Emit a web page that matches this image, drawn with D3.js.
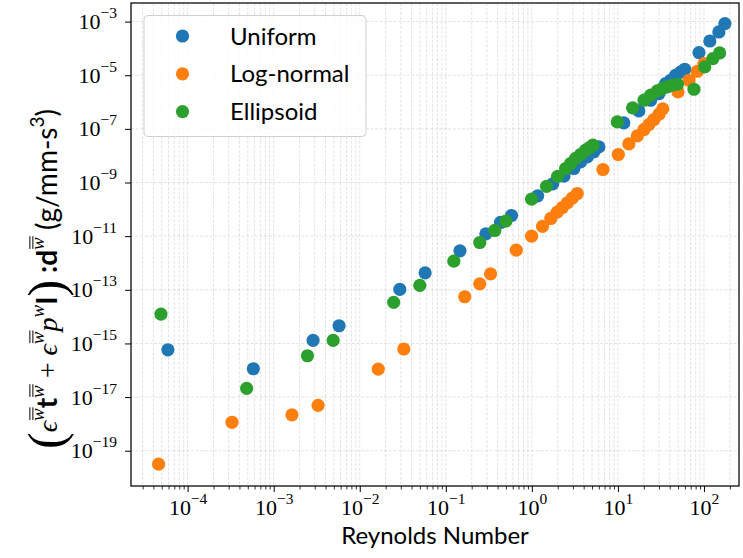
<!DOCTYPE html>
<html>
<head>
<meta charset="utf-8">
<script src="https://cdn.jsdelivr.net/npm/d3@7"></script>
<style>
  body { margin: 0; background: #fff; }
</style>
</head>
<body>
<svg id="chart"></svg>
<script>
// values
var uniformRe = [5.9e-5, 5.8e-4, 2.87e-3, 5.75e-3, 0.0292, 0.0575, 0.146, 0.292, 0.432, 0.58, 1.17, 1.75, 2.36, 3.08, 3.68, 4.40, 5.26, 6.01, 11.7, 17.5, 24.0, 30.0, 35.9, 41, 46.9, 53.6, 59.7, 87.5, 117, 149, 175];
var uniformVal = [5.8e-16, 1.14e-16, 1.30e-15, 4.56e-15, 1.03e-13, 4.3e-13, 2.84e-12, 1.22e-11, 3.24e-11, 5.9e-11, 3.18e-10, 8.9e-10, 1.72e-9, 3.33e-9, 5.87e-9, 9.0e-9, 1.39e-8, 2.13e-8, 1.67e-7, 4.67e-7, 1.17e-6, 2.07e-6, 4.9e-6, 6.5e-6, 1.0e-5, 1.32e-5, 1.67e-5, 7.0e-5, 1.89e-4, 4.1e-4, 8.4e-4];

var lognormalRe = [4.6e-5, 3.28e-4, 1.63e-3, 3.28e-3, 0.0164, 0.0325, 0.166, 0.248, 0.331, 0.659, 0.993, 1.33, 1.66, 1.97, 2.26, 2.58, 2.95, 3.37, 6.7, 10.1, 13.4, 16.8, 20.1, 22.9, 26.2, 30.0, 33.2, 49.9, 67, 83.8, 100];
var lognormalVal = [3.15e-20, 1.15e-18, 2.18e-18, 4.93e-18, 1.11e-16, 6.2e-16, 5.5e-14, 1.67e-13, 3.94e-13, 3.0e-12, 1.0e-11, 2.3e-11, 4.57e-11, 7.85e-11, 1.17e-10, 1.74e-10, 2.6e-10, 3.9e-10, 3.06e-9, 1.11e-8, 2.75e-8, 5.47e-8, 9.5e-8, 1.45e-7, 2.23e-7, 3.52e-7, 5.6e-7, 2.38e-6, 6.5e-6, 1.41e-5, 2.72e-5];

var ellipsoidRe = [4.9e-5, 4.85e-4, 2.47e-3, 4.91e-3, 0.0248, 0.0499, 0.124, 0.248, 0.371, 0.499, 0.993, 1.48, 1.99, 2.47, 2.82, 3.22, 3.68, 4.21, 4.69, 5.12, 9.84, 14.8, 20.1, 24.0, 28.7, 32.8, 37.5, 42.9, 49.1, 76.5, 102, 127, 152];
var ellipsoidVal = [1.24e-14, 2.12e-17, 3.47e-16, 1.30e-15, 3.4e-14, 1.46e-13, 1.17e-12, 5.8e-12, 1.63e-11, 3.62e-11, 2.39e-10, 7.2e-10, 1.69e-9, 3.33e-9, 5.1e-9, 7.9e-9, 1.11e-8, 1.6e-8, 2.02e-8, 2.46e-8, 1.82e-7, 6.1e-7, 1.17e-6, 1.8e-6, 2.6e-6, 3.19e-6, 3.66e-6, 4.23e-6, 4.61e-6, 3.0e-6, 2.04e-5, 4.18e-5, 6.76e-5];

var seriesNames = ["Uniform", "Log-normal", "Ellipsoid"];
var seriesColors = ["#1f77b4", "#ff7f0e", "#2ca02c"];
var xTickExp = [-4, -3, -2, -1, 0, 1, 2];
var yTickExp = [-19, -17, -15, -13, -11, -9, -7, -5, -3];

var series = [
  { name: seriesNames[0], color: seriesColors[0], re: uniformRe, val: uniformVal },
  { name: seriesNames[1], color: seriesColors[1], re: lognormalRe, val: lognormalVal },
  { name: seriesNames[2], color: seriesColors[2], re: ellipsoidRe, val: ellipsoidVal }
];

var width = 743, height = 558;
var plotLeft = 131, plotTop = 3, plotRight = 739, plotBottom = 486;
var serif = "'Liberation Serif', 'DejaVu Serif', serif";
var sans = "Lato, 'Open Sans', 'DejaVu Sans', sans-serif";

var svg = d3.select('#chart')
  .attr('width', width)
  .attr('height', height);

var x = d3.scaleLog()
  .domain([Math.pow(10, -4.658), Math.pow(10, 2.407)])
  .range([plotLeft, plotRight]);
var y = d3.scaleLog()
  .domain([Math.pow(10, -20.315), Math.pow(10, -2.307)])
  .range([plotBottom, plotTop]);

// minor x ticks 2..9 in every decade
var xMinor = [];
for (var d = -5; d <= 2; d++) {
  for (var k = 2; k <= 9; k++) {
    var v = k * Math.pow(10, d);
    if (v > x.domain()[0] && v < x.domain()[1]) xMinor.push(v);
  }
}
var xMajor = xTickExp.map(function (e) { return Math.pow(10, e); });
var yMajor = yTickExp.map(function (e) { return Math.pow(10, e); });

// grid
var grid = svg.append('g')
  .attr('stroke', '#b0b0b0')
  .attr('stroke-opacity', 0.45)
  .attr('stroke-width', 0.8)
  .attr('stroke-dasharray', '3,1.6');
grid.selectAll('line.gx')
  .data(xMajor.concat(xMinor))
  .enter().append('line')
  .attr('x1', function (d) { return x(d); })
  .attr('x2', function (d) { return x(d); })
  .attr('y1', plotTop).attr('y2', plotBottom);
grid.selectAll('line.gy')
  .data(yMajor)
  .enter().append('line')
  .attr('y1', function (d) { return y(d); })
  .attr('y2', function (d) { return y(d); })
  .attr('x1', plotLeft).attr('x2', plotRight);

// axes
var gxMinor = svg.append('g')
  .attr('transform', 'translate(0,' + plotBottom + ')')
  .call(d3.axisBottom(x).tickValues(xMinor).tickSize(3.5).tickFormat(''));
var gxMajor = svg.append('g')
  .attr('transform', 'translate(0,' + plotBottom + ')')
  .call(d3.axisBottom(x).tickValues(xMajor).tickSize(6).tickFormat(''));
var gy = svg.append('g')
  .attr('transform', 'translate(' + plotLeft + ',0)')
  .call(d3.axisLeft(y).tickValues(yMajor).tickSize(6).tickFormat(''));
[gxMinor, gxMajor, gy].forEach(function (g) {
  g.select('.domain').remove();
  g.selectAll('line').attr('stroke', '#000').attr('stroke-width', 1);
});
gxMinor.selectAll('line').attr('stroke-width', 0.8);

// tick labels with superscripts
gxMajor.selectAll('.tick').each(function (d) {
  var e = Math.round(Math.log10(d));
  var t = d3.select(this).append('text')
    .attr('y', 29)
    .attr('fill', '#000')
    .attr('text-anchor', 'middle')
    .style('font-family', serif)
    .style('font-size', '22px');
  t.append('tspan').text('10');
  t.append('tspan').attr('dy', -11).style('font-size', '15.5px')
    .text((e < 0 ? '\u2212' : '') + Math.abs(e));
});
gy.selectAll('.tick').each(function (d) {
  var e = Math.round(Math.log10(d));
  var t = d3.select(this).append('text')
    .attr('x', -14)
    .attr('y', 7)
    .attr('fill', '#000')
    .attr('text-anchor', 'end')
    .style('font-family', serif)
    .style('font-size', '22px');
  t.append('tspan').text('10');
  t.append('tspan').attr('dy', -11).style('font-size', '15.5px')
    .text((e < 0 ? '\u2212' : '') + Math.abs(e));
});

// points
var plot = svg.append('g');
series.forEach(function (s) {
  plot.append('g')
    .selectAll('circle')
    .data(d3.range(s.re.length))
    .enter().append('circle')
    .attr('cx', function (i) { return x(s.re[i]); })
    .attr('cy', function (i) { return y(s.val[i]); })
    .attr('r', 6.6)
    .attr('fill', s.color);
});

// frame
svg.append('rect')
  .attr('x', plotLeft).attr('y', plotTop)
  .attr('width', plotRight - plotLeft).attr('height', plotBottom - plotTop)
  .attr('fill', 'none')
  .attr('stroke', '#000')
  .attr('stroke-width', 1.25);

// legend
var legend = svg.append('g');
legend.append('rect')
  .attr('x', 144).attr('y', 15.5)
  .attr('width', 222).attr('height', 121)
  .attr('rx', 4)
  .attr('fill', '#fff').attr('fill-opacity', 0.8)
  .attr('stroke', '#d0d0d0').attr('stroke-width', 1);
var legendRows = legend.selectAll('g.row')
  .data(series)
  .enter().append('g')
  .attr('transform', function (d, i) { return 'translate(182.5,' + (36 + i * 37.8) + ')'; });
legendRows.append('circle')
  .attr('r', 6.6)
  .attr('fill', function (d) { return d.color; });
legendRows.append('text')
  .attr('x', 47.5).attr('y', 8.5)
  .style('font-family', sans)
  .style('font-size', '24px')
  .attr('fill', '#000')
  .text(function (d) { return d.name; });

// axis titles
svg.append('text')
  .attr('x', (plotLeft + plotRight) / 2).attr('y', 544)
  .attr('text-anchor', 'middle')
  .style('font-family', sans)
  .style('font-size', '24px')
  .text('Reynolds Number');

// y title: pieces of the formula, double bars drawn as lines over the w's
var ylPieces = [
  { t: '(', size: 50, dy: 6, font: serif },
  { t: '\u03F5', size: 28, dy: -6, font: serif, it: true },
  { t: 'w', size: 19, dy: -13, font: serif, it: true, bar: true },
  { t: 't', size: 28, dy: 13, font: sans, bold: true },
  { t: 'w', size: 19, dy: -13, font: serif, it: true, bar: true },
  { t: ' + ', size: 28, dy: 13, font: serif },
  { t: '\u03F5', size: 28, dy: 0, font: serif, it: true },
  { t: 'w', size: 19, dy: -13, font: serif, it: true, bar: true },
  { t: 'p', size: 28, dy: 13, font: serif, it: true },
  { t: 'w', size: 19, dy: -13, font: serif, it: true },
  { t: 'I', size: 28, dy: 13, font: sans, bold: true },
  { t: ')', size: 50, dy: 6, font: serif },
  { t: ' :d', size: 28, dy: -6, font: sans, bold: true },
  { t: 'w', size: 19, dy: -13, font: serif, it: true, bar: true },
  { t: ' (g/mm-s', size: 28, dy: 13, font: sans },
  { t: '3', size: 19, dy: -13, font: sans },
  { t: ')', size: 28, dy: 13, font: sans }
];
var ylGroup = svg.append('g').attr('transform', 'translate(57,279) rotate(-90)');
var yl = ylGroup.append('text')
  .attr('text-anchor', 'middle')
  .attr('fill', '#000');
var charIndex = 0, barChars = [];
ylPieces.forEach(function (p) {
  yl.append('tspan')
    .attr('dy', p.dy)
    .style('font-family', p.font)
    .style('font-size', p.size + 'px')
    .style('font-style', p.it ? 'italic' : 'normal')
    .style('font-weight', p.bold ? 'bold' : 'normal')
    .text(p.t);
  if (p.bar) barChars.push(charIndex);
  charIndex += p.t.length;
});
barChars.forEach(function (ci) {
  var box = yl.node().getExtentOfChar(ci);
  var ytop = box.y + box.height * 0.28;
  [0, 3].forEach(function (off) {
    ylGroup.append('line')
      .attr('x1', box.x + 1).attr('x2', box.x + box.width + 1)
      .attr('y1', ytop - off).attr('y2', ytop - off)
      .attr('stroke', '#000').attr('stroke-width', 1);
  });
});
</script>
</body>
</html>
